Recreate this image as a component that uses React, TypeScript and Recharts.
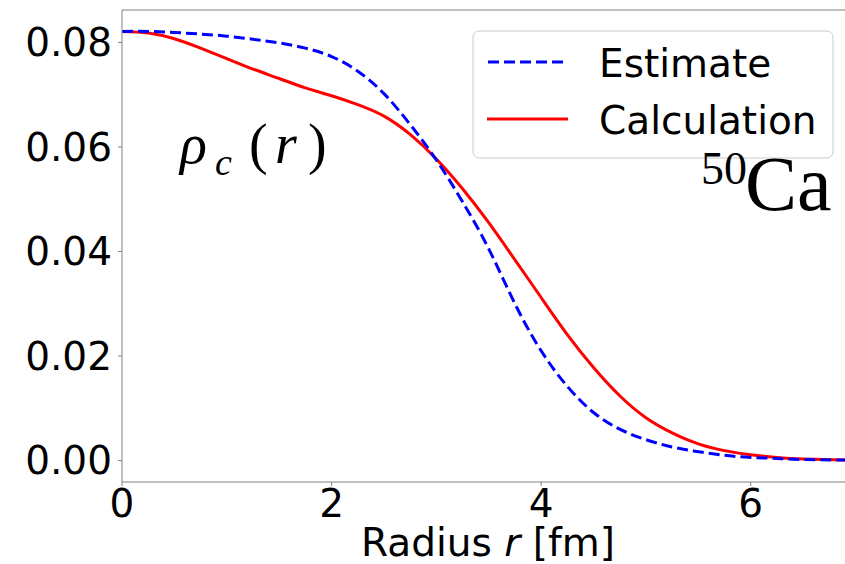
import { CartesianGrid, Customized, Line, LineChart, ReferenceLine, XAxis, YAxis } from "recharts";

// radius grid [fm]
const radius = [
  0, 0.25, 0.5, 0.75, 1, 1.25, 1.5, 1.75, 2, 2.25, 2.5, 2.75, 3, 3.25, 3.5, 3.75, 4, 4.25, 4.5, 4.75, 5, 5.25,
  5.5, 5.75, 6, 6.25, 6.5, 6.9,
];
const estimate = [
  0.0821, 0.0821, 0.0819, 0.0816, 0.0812, 0.0806, 0.0799, 0.0789, 0.0773, 0.0745, 0.0702, 0.0643, 0.0575, 0.0495,
  0.0405, 0.03, 0.021, 0.0142, 0.0092, 0.006, 0.004, 0.0026, 0.0017, 0.001, 0.0006, 0.0004, 0.0002, 0.0001,
];
const calculation = [
  0.0821, 0.0818, 0.0807, 0.0789, 0.0769, 0.0749, 0.0731, 0.0713, 0.0698, 0.0681, 0.0659, 0.0624, 0.0577, 0.052,
  0.0455, 0.0384, 0.0312, 0.0241, 0.0178, 0.0124, 0.0082, 0.0053, 0.0032, 0.0019, 0.0011, 0.0006, 0.0003, 0.0001,
];
const xTicks = [0, 2, 4, 6];
const yTicks = [0, 0.02, 0.04, 0.06, 0.08];

const X_DOMAIN: [number, number] = [0, 6.9];
const Y_DOMAIN: [number, number] = [-0.0041, 0.0862];

const data = radius.map((r, i) => ({ r, estimate: estimate[i], calculation: calculation[i] }));

const SANS = "DejaVu Sans";
const SERIF = "Liberation Serif";
const FS = 39;
const SPINE = "#808080";

function XLabel() {
  return (
    <text x={488} y={556} textAnchor="middle" fontFamily={SANS} fontSize={FS} fill="#000">
      Radius <tspan fontStyle="italic">r</tspan> [fm]
    </text>
  );
}

/** Legend box plus the two text annotations. */
function Overlay() {
  return (
    <g>
      <text fontFamily={SERIF} fontSize={56} fill="#000">
        <tspan x={180} y={163} fontStyle="italic">ρ</tspan>
        <tspan x={215} y={175} fontSize={38} fontStyle="italic">c</tspan>
        <tspan x={249} y={163}>(</tspan>
        <tspan x={275} y={163} fontStyle="italic">r</tspan>
        <tspan x={308} y={163}>)</tspan>
      </text>
      <rect x={473} y={31} width={360} height={127} rx={6} fill="#fff" fillOpacity={0.8} stroke="#cccccc" />
      <line x1={488} y1={62} x2={567} y2={62} stroke="#0000ff" strokeWidth={3} strokeDasharray="11 5" />
      <line x1={487} y1={119} x2={568} y2={119} stroke="#ff0000" strokeWidth={3} />
      <text x={599} y={77} fontFamily={SANS} fontSize={FS} fill="#000">
        Estimate
      </text>
      <text x={599} y={134} fontFamily={SANS} fontSize={FS} fill="#000">
        Calculation
      </text>
      <text fontFamily={SERIF} fill="#000">
        <tspan x={701} y={184} fontSize={46}>50</tspan>
        <tspan x={745} y={210} fontSize={78}>Ca</tspan>
      </text>
    </g>
  );
}

export default function App() {
  return (
    <div style={{ position: "absolute", left: 0, top: 0, width: 845, height: 564, background: "#fff" }}>
      <LineChart width={845} height={564} data={data} margin={{ top: 10, right: 0, bottom: 0, left: 0 }}>
        <CartesianGrid horizontal={false} vertical={false} />
        <XAxis
          dataKey="r"
          type="number"
          domain={X_DOMAIN}
          ticks={xTicks}
          allowDataOverflow
          height={82}
          stroke={SPINE}
          tickSize={4}
          tickMargin={3}
          tick={{ fontFamily: SANS, fontSize: FS, fill: "#000" }}
          label={<XLabel />}
        />
        <YAxis
          type="number"
          domain={Y_DOMAIN}
          ticks={yTicks}
          allowDataOverflow
          width={122}
          stroke={SPINE}
          tickSize={4}
          tickMargin={6}
          tickFormatter={(v: number) => v.toFixed(2)}
          tick={{ fontFamily: SANS, fontSize: FS, fill: "#000" }}
        />
        <ReferenceLine y={Y_DOMAIN[1]} stroke={SPINE} />
        <Line
          type="natural"
          dataKey="calculation"
          stroke="#ff0000"
          strokeWidth={3}
          dot={false}
          isAnimationActive={false}
        />
        <Line
          type="natural"
          dataKey="estimate"
          stroke="#0000ff"
          strokeWidth={3}
          strokeDasharray="11 5"
          dot={false}
          isAnimationActive={false}
        />
        <Customized component={<Overlay />} />
      </LineChart>
    </div>
  );
}
